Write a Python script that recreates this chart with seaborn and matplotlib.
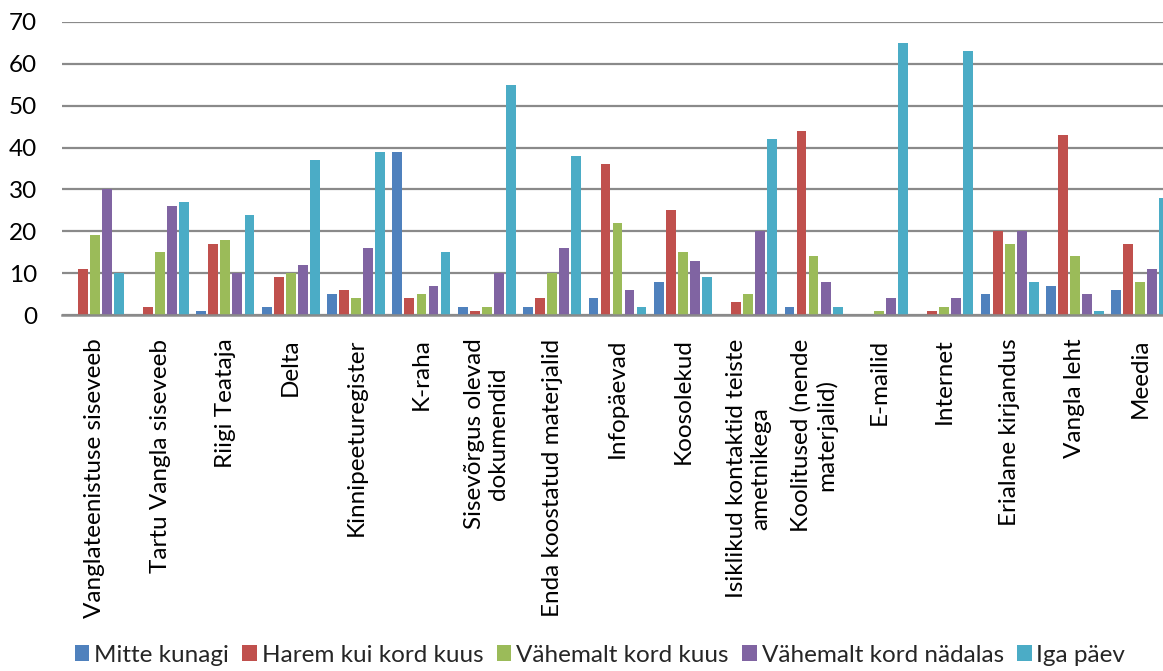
import matplotlib
matplotlib.use("Agg")
import matplotlib.pyplot as plt
import matplotlib.patches as mpatches
import seaborn as sns
import pandas as pd

categories = [
    "Vanglateenistuse siseveeb",
    "Tartu Vangla siseveeb",
    "Riigi Teataja",
    "Delta",
    "Kinnipeeturegister",
    "K-raha",
    "Sisevõrgus olevad\ndokumendid",
    "Enda koostatud materjalid",
    "Infopäevad",
    "Koosolekud",
    "Isiklikud kontaktid teiste\nametnikega",
    "Koolitused (nende\nmaterjalid)",
    "E-mailid",
    "Internet",
    "Erialane kirjandus",
    "Vangla leht",
    "Meedia",
]

series_names = [
    "Mitte kunagi",
    "Harem kui kord kuus",
    "Vähemalt kord kuus",
    "Vähemalt kord nädalas",
    "Iga päev",
]

mitte_kunagi = [0, 0, 1, 2, 5, 39, 2, 2, 4, 8, 0, 2, 0, 0, 5, 7, 6]
harem_kui_kord_kuus = [11, 2, 17, 9, 6, 4, 1, 4, 36, 25, 3, 44, 0, 1, 20, 43, 17]
vahemalt_kord_kuus = [19, 15, 18, 10, 4, 5, 2, 10, 22, 15, 5, 14, 1, 2, 17, 14, 8]
vahemalt_kord_nadalas = [30, 26, 10, 12, 16, 7, 10, 16, 6, 13, 20, 8, 4, 4, 20, 5, 11]
iga_paev = [10, 27, 24, 37, 39, 15, 55, 38, 2, 9, 42, 2, 65, 63, 8, 1, 28]

colors = ["#4F81BD", "#C0504D", "#9BBB59", "#8064A2", "#4BACC6"]

series_values = [mitte_kunagi, harem_kui_kord_kuus, vahemalt_kord_kuus,
                 vahemalt_kord_nadalas, iga_paev]
rows = []
for name, vals in zip(series_names, series_values):
    for cat, v in zip(categories, vals):
        rows.append({"kategooria": cat, "sagedus": name, "vaartus": v})
df = pd.DataFrame(rows)

sns.set_theme(style="white")
plt.rcParams["font.family"] = ["Lato", "DejaVu Sans"]

FS = 17.5
W, H = 1163, 671
fig = plt.figure(figsize=(W / 100, H / 100), dpi=100)
# the plot area runs past the right edge, so the last group is clipped
ax = fig.add_axes([62 / W, 1 - 315 / H, 1111 / W, (315 - 22) / H])

sns.barplot(
    data=df, x="kategooria", y="vaartus", hue="sagedus",
    order=categories, hue_order=series_names, palette=colors,
    width=0.92, gap=0.18, linewidth=0,
    saturation=1, legend=False, ax=ax, zorder=3,
)

ax.set_ylim(0, 70)
ax.set_xlim(-0.5, len(categories) - 0.5)
ax.set_yticks(range(0, 71, 10))
ax.yaxis.grid(True, color="#8a8a8a", linewidth=1.6, zorder=0)
ax.set_axisbelow(True)
for side in ["left", "right", "top"]:
    ax.spines[side].set_visible(False)
ax.spines["bottom"].set_color("#8a8a8a")
ax.spines["bottom"].set_linewidth(1.8)
ax.spines["bottom"].set_zorder(4)
ax.set_xlabel("")
ax.set_ylabel("")
ax.tick_params(axis="both", length=0, labelsize=FS, colors="black")
ax.tick_params(axis="y", pad=18)
ax.tick_params(axis="x", pad=17)
for lbl in ax.get_xticklabels():
    lbl.set_rotation(90)
    lbl.set_ha("center")
    lbl.set_va("top")
    lbl.set_multialignment("center")

handles = [mpatches.Patch(facecolor=c, edgecolor="none") for c in colors]
fig.legend(
    handles, series_names, loc="center", bbox_to_anchor=(600 / W, 1 - 655 / H),
    ncol=5, frameon=False, fontsize=FS, handlelength=0.6, handleheight=0.6,
    handletextpad=0.2, columnspacing=0.55, borderaxespad=0,
)

fig.savefig("out.png", dpi=100)
